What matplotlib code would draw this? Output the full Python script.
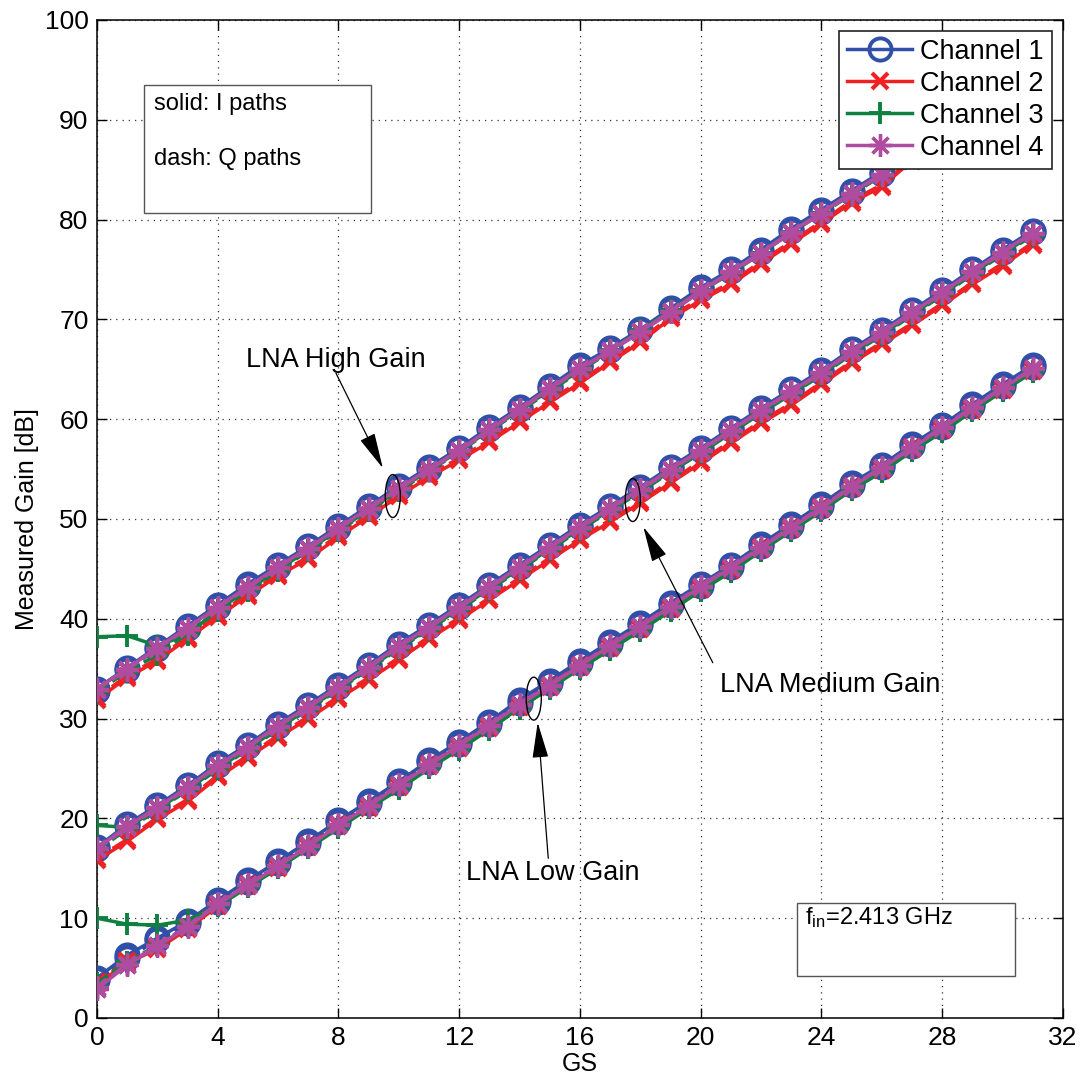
import numpy as np
import matplotlib
matplotlib.use("Agg")
import matplotlib.pyplot as plt
from matplotlib.patches import Ellipse, Rectangle

plt.rcParams['font.family'] = ['Liberation Sans', 'DejaVu Sans']
plt.rcParams['mathtext.fontset'] = 'custom'
plt.rcParams['mathtext.rm'] = 'Liberation Sans'
plt.rcParams['mathtext.it'] = 'Liberation Sans'

# gain step setting
gs = np.arange(32)

# LNA high gain, I paths
high_ch1_i = [33.0, 35.1, 37.2, 39.3, 41.4, 43.5, 45.4, 47.3, 49.3, 51.3, 53.3, 55.2, 57.1, 59.2, 61.2, 63.3,
              65.4, 67.1, 69.0, 71.1, 73.2, 75.0, 77.0, 79.1, 81.0, 82.9, 84.8, 87.0, 89.0, 91.0, 93.0, 95.0]
high_ch2_i = [31.9, 34.1, 35.8, 38.0, 40.2, 42.3, 44.3, 46.0, 48.2, 50.2, 52.3, 54.2, 55.9, 57.7, 59.7, 61.7,
              63.6, 65.7, 67.7, 70.1, 71.9, 73.5, 75.6, 77.6, 79.6, 81.7, 83.3, 85.9, 88.0, 90.0, 92.0, 94.0]
high_ch3_i = [38.2, 38.3, 37.3, 38.4, 40.9, 42.9, 44.9, 46.9, 48.9, 50.9, 52.9, 54.9, 56.8, 58.9, 60.9, 62.9,
              64.9, 66.9, 68.9, 70.9, 72.9, 74.7, 76.7, 78.8, 80.7, 82.6, 84.5, 86.6, 88.6, 90.6, 92.6, 94.6]
high_ch4_i = [33.0, 35.0, 37.1, 39.1, 41.2, 43.2, 45.2, 47.1, 49.1, 51.1, 53.1, 55.0, 56.9, 59.0, 61.0, 63.1,
              65.1, 66.9, 68.8, 70.8, 72.9, 74.8, 76.7, 78.8, 80.7, 82.7, 84.6, 86.7, 88.7, 90.7, 92.7, 94.7]
# LNA high gain, Q paths
high_ch1_q = [32.8, 34.9, 37.0, 39.1, 41.2, 43.3, 45.2, 47.2, 49.1, 51.1, 53.1, 55.0, 57.0, 59.0, 61.0, 63.1,
              65.2, 66.9, 68.9, 70.9, 73.0, 74.8, 76.8, 78.9, 80.8, 82.7, 84.6, 86.8, 88.8, 90.8, 92.8, 94.8]
high_ch2_q = [32.1, 34.3, 36.0, 38.2, 40.4, 42.5, 44.5, 46.2, 48.4, 50.4, 52.5, 54.4, 56.1, 57.9, 59.9, 61.9,
              63.8, 65.9, 67.9, 70.3, 72.1, 73.7, 75.8, 77.8, 79.8, 81.9, 83.5, 86.1, 88.2, 90.2, 92.2, 94.2]
high_ch3_q = [32.7, 34.7, 36.4, 38.5, 40.8, 42.8, 44.8, 46.8, 48.8, 50.8, 52.8, 54.8, 56.7, 58.8, 60.8, 62.8,
              64.8, 66.8, 68.8, 70.8, 72.8, 74.6, 76.6, 78.7, 80.6, 82.5, 84.4, 86.5, 88.5, 90.5, 92.5, 94.5]
high_ch4_q = [32.9, 34.9, 37.0, 39.0, 41.1, 43.1, 45.1, 47.0, 49.0, 51.0, 53.0, 54.9, 56.8, 58.9, 60.9, 63.0,
              65.0, 66.8, 68.7, 70.7, 72.8, 74.7, 76.6, 78.7, 80.6, 82.6, 84.5, 86.6, 88.6, 90.6, 92.6, 94.6]

# LNA medium gain, I paths
med_ch1_i = [17.1, 19.4, 21.3, 23.3, 25.5, 27.4, 29.5, 31.4, 33.4, 35.4, 37.5, 39.4, 41.4, 43.4, 45.4, 47.4,
             49.4, 51.3, 53.2, 55.2, 57.1, 59.1, 61.1, 63.0, 64.9, 67.0, 68.9, 70.9, 72.9, 75.0, 77.0, 78.9]
med_ch2_i = [15.8, 17.7, 19.9, 21.7, 24.1, 26.1, 28.1, 30.0, 32.0, 33.9, 35.9, 38.0, 39.9, 41.9, 43.9, 45.9,
             47.9, 49.7, 51.6, 53.6, 55.6, 57.6, 59.6, 61.4, 63.5, 65.6, 67.5, 69.4, 71.4, 73.5, 75.4, 77.5]
med_ch3_i = [19.3, 19.1, 20.9, 22.9, 25.0, 27.0, 29.0, 31.0, 33.0, 35.0, 37.1, 39.0, 41.0, 43.0, 45.0, 47.0,
             49.0, 50.9, 52.8, 54.8, 56.7, 58.7, 60.7, 62.6, 64.5, 66.6, 68.5, 70.5, 72.5, 74.6, 76.6, 78.5]
med_ch4_i = [17.0, 19.2, 21.1, 23.1, 25.3, 27.2, 29.3, 31.2, 33.2, 35.2, 37.3, 39.2, 41.2, 43.2, 45.2, 47.2,
             49.2, 51.1, 53.0, 55.0, 56.9, 58.9, 60.9, 62.8, 64.7, 66.8, 68.7, 70.7, 72.7, 74.8, 76.8, 78.7]
# LNA medium gain, Q paths
med_ch1_q = [16.9, 19.2, 21.1, 23.2, 25.3, 27.3, 29.3, 31.3, 33.2, 35.3, 37.3, 39.3, 41.2, 43.3, 45.2, 47.3,
             49.2, 51.2, 53.0, 55.1, 56.9, 59.0, 60.9, 62.9, 64.7, 66.9, 68.7, 70.8, 72.7, 74.9, 76.8, 78.8]
med_ch2_q = [16.0, 17.9, 20.1, 21.9, 24.3, 26.3, 28.3, 30.2, 32.2, 34.1, 36.1, 38.2, 40.1, 42.1, 44.1, 46.1,
             48.1, 49.9, 51.8, 53.8, 55.8, 57.8, 59.8, 61.6, 63.7, 65.8, 67.7, 69.6, 71.6, 73.7, 75.6, 77.7]
med_ch3_q = [16.8, 18.9, 20.8, 22.8, 24.9, 26.9, 28.9, 30.9, 32.9, 34.9, 37.0, 38.9, 40.9, 42.9, 44.9, 46.9,
             48.9, 50.8, 52.7, 54.7, 56.6, 58.6, 60.6, 62.5, 64.4, 66.5, 68.4, 70.4, 72.4, 74.5, 76.5, 78.4]
med_ch4_q = [16.9, 19.1, 21.0, 23.0, 25.2, 27.1, 29.2, 31.1, 33.1, 35.1, 37.2, 39.1, 41.1, 43.1, 45.1, 47.1,
             49.1, 51.0, 52.9, 54.9, 56.8, 58.8, 60.8, 62.7, 64.6, 66.7, 68.6, 70.6, 72.6, 74.7, 76.7, 78.6]

# LNA low gain, I paths
low_ch1_i = [4.0, 6.3, 8.0, 9.7, 11.8, 13.8, 15.7, 17.7, 19.8, 21.7, 23.7, 25.8, 27.7, 29.7, 31.9, 33.8,
             35.8, 37.7, 39.6, 41.6, 43.5, 45.4, 47.5, 49.5, 51.5, 53.6, 55.4, 57.5, 59.4, 61.5, 63.5, 65.4]
low_ch2_i = [3.4, 5.5, 6.9, 8.9, 11.2, 13.2, 15.0, 17.1, 19.2, 21.0, 23.1, 25.2, 27.1, 29.1, 31.2, 33.2,
             35.2, 37.1, 39.0, 41.0, 43.0, 44.9, 47.0, 49.0, 51.0, 53.1, 54.9, 57.0, 58.9, 60.9, 62.9, 64.8]
low_ch3_i = [10.0, 9.4, 9.3, 9.8, 11.2, 13.1, 15.0, 17.0, 19.0, 21.0, 22.9, 25.0, 26.9, 28.9, 31.1, 33.0,
             35.0, 36.9, 38.8, 40.8, 42.8, 44.7, 46.8, 48.8, 50.8, 52.9, 54.7, 56.8, 58.7, 60.8, 62.8, 64.7]
low_ch4_i = [2.9, 5.3, 7.2, 9.1, 11.4, 13.3, 15.2, 17.2, 19.3, 21.2, 23.3, 25.3, 27.3, 29.3, 31.4, 33.3,
             35.3, 37.3, 39.2, 41.2, 43.2, 45.1, 47.1, 49.1, 51.1, 53.2, 55.1, 57.1, 59.1, 61.1, 63.1, 65.0]
# LNA low gain, Q paths
low_ch1_q = [3.8, 6.0, 7.8, 9.5, 11.6, 13.6, 15.5, 17.5, 19.6, 21.5, 23.5, 25.6, 27.5, 29.5, 31.6, 33.6,
             35.6, 37.5, 39.4, 41.4, 43.3, 45.2, 47.3, 49.3, 51.3, 53.4, 55.2, 57.3, 59.2, 61.3, 63.3, 65.2]
low_ch2_q = [3.6, 5.7, 7.1, 9.1, 11.4, 13.4, 15.2, 17.3, 19.4, 21.2, 23.3, 25.4, 27.3, 29.3, 31.4, 33.4,
             35.4, 37.3, 39.2, 41.2, 43.2, 45.1, 47.2, 49.2, 51.2, 53.3, 55.1, 57.2, 59.1, 61.1, 63.1, 65.0]
low_ch3_q = [3.5, 5.6, 7.3, 9.2, 11.3, 13.2, 15.1, 17.1, 19.1, 21.1, 23.0, 25.1, 27.0, 29.0, 31.0, 33.1,
             35.1, 37.0, 38.9, 40.9, 42.9, 44.8, 46.9, 48.9, 50.9, 53.0, 54.8, 56.9, 58.8, 60.9, 62.9, 64.8]
low_ch4_q = [3.1, 5.4, 7.3, 9.2, 11.5, 13.4, 15.3, 17.3, 19.4, 21.3, 23.4, 25.4, 27.4, 29.4, 31.5, 33.4,
             35.4, 37.4, 39.3, 41.3, 43.3, 45.2, 47.2, 49.2, 51.2, 53.3, 55.2, 57.2, 59.2, 61.2, 63.2, 65.1]

channel_names = ["Channel 1", "Channel 2", "Channel 3", "Channel 4"]
colors = ["#2F4FA8", "#EE2224", "#0E8040", "#B04CA0"]
marker_styles = [
    dict(marker='o', markersize=16, markerfacecolor='none', markeredgewidth=2.8),
    dict(marker='x', markersize=11, markeredgewidth=3.0),
    dict(marker='+', markersize=16, markeredgewidth=2.8),
    dict(marker=(8, 2, 0), markersize=16, markeredgewidth=2.4),
]

i_paths = [
    [high_ch1_i, med_ch1_i, low_ch1_i],
    [high_ch2_i, med_ch2_i, low_ch2_i],
    [high_ch3_i, med_ch3_i, low_ch3_i],
    [high_ch4_i, med_ch4_i, low_ch4_i],
]
q_paths = [
    [high_ch1_q, med_ch1_q, low_ch1_q],
    [high_ch2_q, med_ch2_q, low_ch2_q],
    [high_ch3_q, med_ch3_q, low_ch3_q],
    [high_ch4_q, med_ch4_q, low_ch4_q],
]

fig = plt.figure(figsize=(10.82, 10.81), dpi=100)
ax = fig.add_axes([0.0896, 0.0583, 0.8928, 0.9232])

handles = []
for k in range(4):
    for j in range(3):
        # solid: I path, dashed: Q path
        ax.plot(gs, q_paths[k][j], color=colors[k], lw=2.5, ls='--', zorder=3 + k,
                **marker_styles[k])
        h, = ax.plot(gs, i_paths[k][j], color=colors[k], lw=2.5, ls='-', zorder=3 + k,
                     **marker_styles[k])
    handles.append(h)

ax.set_xlim(0, 32)
ax.set_ylim(0, 100)
ax.set_xticks(np.arange(0, 33, 4))
ax.set_yticks(np.arange(0, 101, 10))
ax.tick_params(direction='in', length=7, width=1, labelsize=19, top=True, right=True, pad=6)
ax.grid(True, ls=(0, (1, 4)), color='#333333', lw=0.9)
for s in ax.spines.values():
    s.set_linewidth(1.1)
ax.set_xlabel("GS", fontsize=18, labelpad=1)
ax.set_ylabel("Measured Gain [dB]", fontsize=18, labelpad=4)

leg = ax.legend(handles, channel_names, loc='upper right', fontsize=19.5, fancybox=False,
                framealpha=1, edgecolor='#222222', handlelength=2.4, borderaxespad=0.4,
                labelspacing=0.22, handletextpad=0.3, borderpad=0.3)
leg.get_frame().set_linewidth(1.2)
leg.set_zorder(20)

# annotations for each LNA gain group
arrow = dict(arrowstyle='-|>,head_length=0.8,head_width=0.18', color='k', lw=0.9,
             mutation_scale=28, shrinkA=0, shrinkB=0)
ax.text(7.9, 65.9, "LNA High Gain", fontsize=19.5, ha='center', va='center', zorder=15)
ax.annotate("", xy=(9.47, 55.1), xytext=(7.92, 64.6), arrowprops=arrow, zorder=15)
ax.text(24.3, 33.4, "LNA Medium Gain", fontsize=19.5, ha='center', va='center', zorder=15)
ax.annotate("", xy=(18.1, 49.2), xytext=(20.4, 35.6), arrowprops=arrow, zorder=15)
ax.text(15.1, 14.5, "LNA Low Gain", fontsize=19.5, ha='center', va='center', zorder=15)
ax.annotate("", xy=(14.6, 29.6), xytext=(14.95, 16.0), arrowprops=arrow, zorder=15)

for cx, cy in [(9.8, 52.3), (17.75, 51.9), (14.47, 32.0)]:
    ax.add_patch(Ellipse((cx, cy), 0.5, 4.3, fill=False, ec='k', lw=1.0, zorder=16))

# note boxes
ax.add_patch(Rectangle((1.56, 80.7), 7.52, 12.8, fc='white', ec='#555555', lw=1.0, zorder=14))
ax.text(1.9, 91.6, "solid: I paths", fontsize=17, va='center', zorder=15)
ax.text(1.9, 86.1, "dash: Q paths", fontsize=17, va='center', zorder=15)

ax.add_patch(Rectangle((23.2, 4.2), 7.2, 7.3, fc='white', ec='#555555', lw=1.0, zorder=14))
ax.text(23.45, 10.1, r"f$_{\rm in}$=2.413 GHz", fontsize=17, va='center', zorder=15)

plt.savefig("out.png", dpi=100)
